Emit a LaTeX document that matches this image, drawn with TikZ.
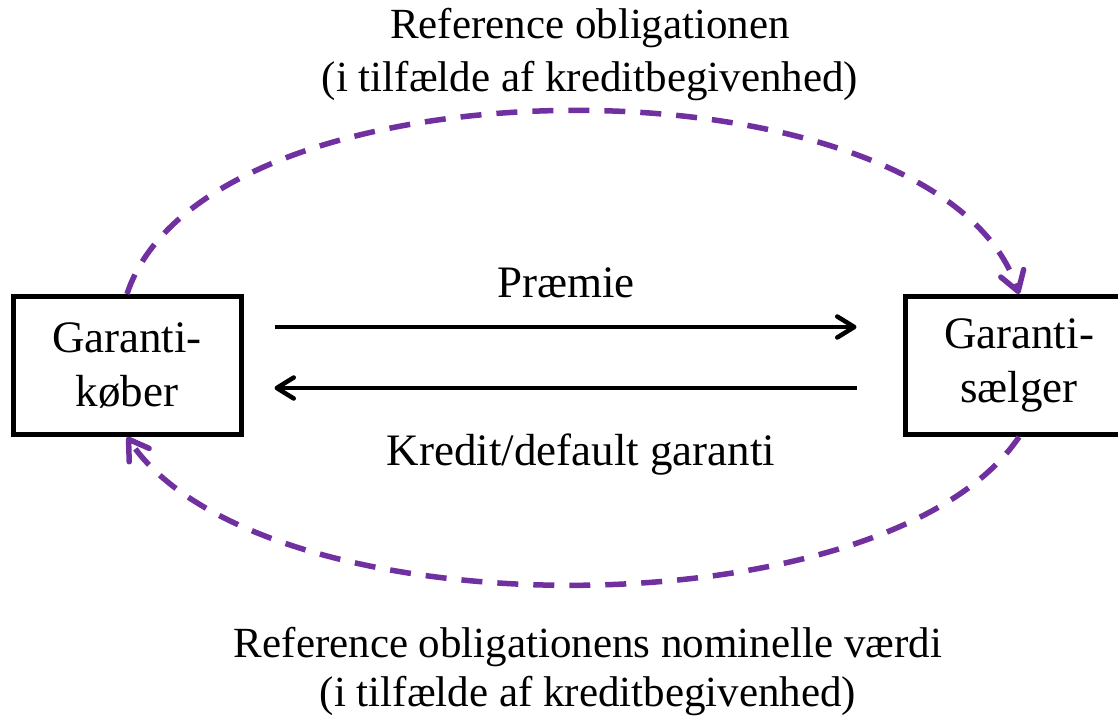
\documentclass[tikz,border=0pt]{standalone}
\usepackage{fontspec}
\setmainfont{Liberation Serif}
\usetikzlibrary{arrows.meta,positioning}

\definecolor{eventpurple}{HTML}{7030A0}

\tikzset{
  party/.style={draw, line width=5pt, minimum width=228pt, minimum height=138pt,
                align=center, inner sep=0pt},
  flow/.style={line width=4.5pt, -{Straight Barb[round,length=17pt,width=21pt]}},
  event/.style={eventpurple, line width=5.5pt, dash pattern=on 21pt off 15pt,
                -{Straight Barb[round,length=19pt,width=24pt]}},
  lbl/.style={inner sep=0pt, anchor=base},
  note/.style={lbl, font=\fontsize{43}{52}\selectfont}
}

\begin{document}
\begin{tikzpicture}[x=1pt, y=-1pt, font=\fontsize{45}{54}\selectfont]
\clip (0,0) rectangle (1118,717);

% parties
\node[party] (kober) at (127,365.5) {Garanti-\\køber};
\node[party] (saelger) at (1019,365.5) {Garanti-\\sælger};

% payment flows
\coordinate (premstart) at ([xshift=31pt,yshift=38.5pt]kober.east);
\coordinate (premend) at ([xshift=-46pt,yshift=38.5pt]saelger.west);
\coordinate (garstart) at ([xshift=-46pt,yshift=-22.5pt]saelger.west);
\coordinate (garend) at ([xshift=31pt,yshift=-22.5pt]kober.east);
\draw[flow] (premstart) -- (premend);
\draw[flow] (garstart) -- (garend);
\node[lbl] (premie) at (566,297) {Præmie};
\node[lbl] (garanti) at (581,465) {Kredit/default garanti};

% credit event
\draw[event] (kober.north) .. controls +(80,-244) and +(-80,-244) .. (saelger.north);
\draw[event] (saelger.south) .. controls +(-133,197) and +(133,197) .. (kober.south);
\node[note] (refobl) at (590,39) {Reference obligationen};
\node[note] (refcase) at ([yshift=-53pt]refobl.base) {(i tilfælde af kreditbegivenhed)};
\node[note] (nomval) at (588,657) {Reference obligationens nominelle værdi};
\node[note] (nomcase) at ([yshift=-49pt]nomval.base) {(i tilfælde af kreditbegivenhed)};
\end{tikzpicture}
\end{document}
